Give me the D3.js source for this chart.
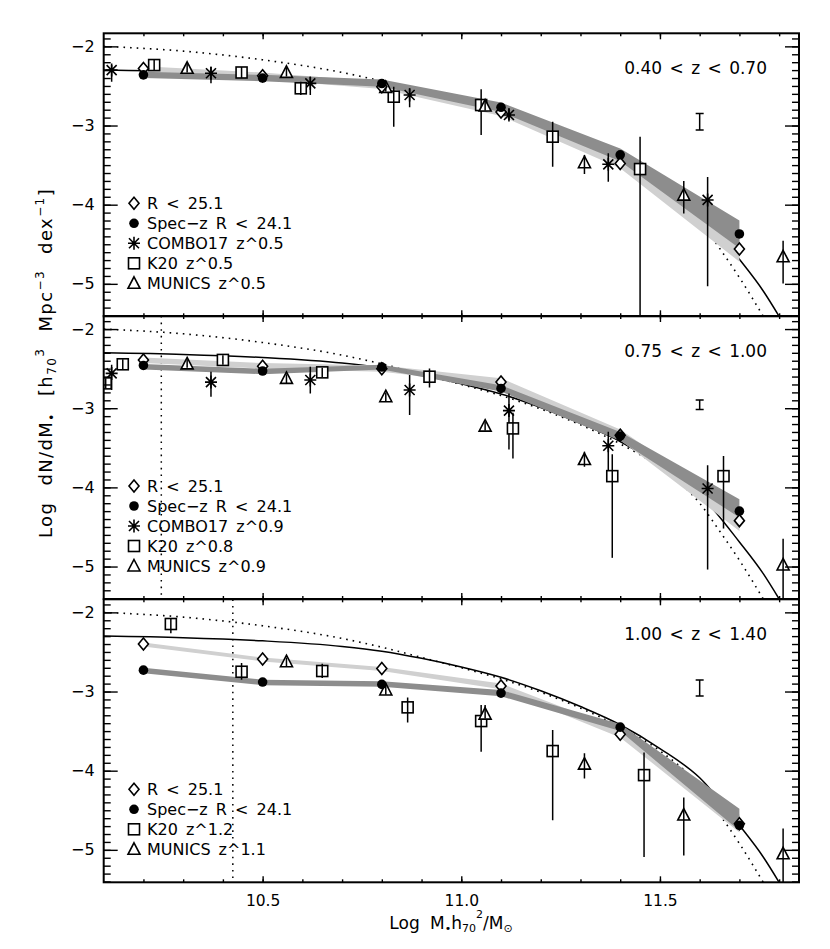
<!DOCTYPE html>
<html><head><meta charset="utf-8">
<script src="https://cdn.jsdelivr.net/npm/d3@7"></script>
<style>
body{margin:0;background:#fff}
svg{display:block}
text{font-family:"DejaVu Sans",sans-serif;fill:#000}
</style>
</head><body>
<svg id="c" width="830" height="949"></svg>
<script>
// ---------------- DATA ----------------
const massBins = [10.2, 10.5, 10.8, 11.1, 11.4, 11.7];
const xTickValues = [10.5, 11.0, 11.5];
const yTickValues = [-2, -3, -4, -5];
const zLabels = ["0.40 < z < 0.70", "0.75 < z < 1.00", "1.00 < z < 1.40"];

// reference mass functions
const dottedX = [10.1,10.3,10.5,10.7,10.8,10.9,11.0,11.1,11.2,11.3,11.4,11.5,11.6,11.65,11.7,11.76];
const dottedY = [-2.0,-2.06,-2.17,-2.33,-2.44,-2.57,-2.70,-2.84,-3.01,-3.21,-3.45,-3.75,-4.2,-4.55,-4.92,-5.41];
const solidX = [10.1,10.3,10.5,10.7,10.8,10.9,11.0,11.1,11.2,11.3,11.4,11.5,11.6,11.7,11.76,11.8];
const solidY = [-2.30,-2.32,-2.36,-2.43,-2.49,-2.58,-2.69,-2.82,-2.99,-3.19,-3.42,-3.72,-4.09,-4.69,-5.09,-5.41];

// panel 1 : 0.40 < z < 0.70
const rLim1   = [-2.28,-2.37,-2.51,-2.83,-3.48,-4.56];
const specZ1  = [-2.36,-2.40,-2.47,-2.77,-3.37,-4.37];
const lightHi1 = [-2.25,-2.33,-2.45,-2.76,-3.40,-4.40];
const lightLo1 = [-2.35,-2.42,-2.54,-2.88,-3.54,-4.72];
const darkHi1  = [-2.32,-2.36,-2.42,-2.71,-3.29,-4.20];
const darkLo1  = [-2.40,-2.44,-2.51,-2.83,-3.45,-4.55];
const combo1 = [[10.12,-2.30,-2.235,-2.446],[10.37,-2.34,-2.256,-2.467],[10.62,-2.467,-2.383,-2.615],[10.87,-2.615,-2.53,-2.77],[11.12,-2.867,-2.783,-2.93],[11.37,-3.49,-3.35,-3.71],[11.62,-3.94,-3.65,-5.03]];
const k20_1 = [[10.227,-2.236,-2.17,-2.30],[10.447,-2.33,-2.26,-2.40],[10.596,-2.53,-2.446,-2.615],[10.83,-2.636,-2.509,-3.015],[11.05,-2.741,-2.543,-3.12],[11.23,-3.141,-2.952,-3.52],[11.45,-3.55,-3.141,-5.41]];
const munics1 = [[10.31,-2.277,-2.22,-2.33],[10.56,-2.328,-2.27,-2.38],[10.81,-2.518,-2.46,-2.57],[11.06,-2.754,-2.69,-2.81],[11.31,-3.47,-3.373,-3.613],[11.56,-3.879,-3.702,-4.11],[11.81,-4.658,-4.456,-4.996]];
const legendTypes1 = ["diamond","circle","asterisk","square","triangle"];
const legendLabels1 = ["R < 25.1","Spec\u2212z R < 24.1","COMBO17 z^0.5","K20 z^0.5","MUNICS z^0.5"];

// panel 2 : 0.75 < z < 1.00
const rLim2   = [-2.39,-2.47,-2.50,-2.67,-3.34,-4.42];
const specZ2  = [-2.46,-2.53,-2.48,-2.75,-3.35,-4.30];
const lightHi2 = [-2.36,-2.43,-2.46,-2.62,-3.27,-4.30];
const lightLo2 = [-2.43,-2.50,-2.54,-2.71,-3.40,-4.55];
const darkHi2  = [-2.44,-2.50,-2.45,-2.71,-3.30,-4.15];
const darkLo2  = [-2.51,-2.57,-2.51,-2.79,-3.41,-4.38];
const combo2 = [[10.12,-2.56,-2.45,-2.77],[10.37,-2.67,-2.539,-2.855],[10.62,-2.644,-2.476,-2.813],[10.87,-2.77,-2.58,-3.087],[11.12,-3.03,-2.813,-3.52],[11.37,-3.474,-3.297,-3.816],[11.62,-4.014,-3.719,-5.038]];
const k20_2 = [[10.105,-2.686,-2.62,-2.75],[10.148,-2.445,-2.38,-2.51],[10.40,-2.39,-2.33,-2.45],[10.65,-2.547,-2.49,-2.61],[10.92,-2.602,-2.497,-2.737],[11.13,-3.255,-3.057,-3.634],[11.38,-3.858,-3.58,-4.89],[11.66,-3.858,-3.605,-4.52]];
const munics2 = [[10.31,-2.44,-2.38,-2.49],[10.56,-2.623,-2.57,-2.68],[10.81,-2.855,-2.80,-2.91],[11.06,-3.226,-3.17,-3.28],[11.31,-3.648,-3.55,-3.74],[11.81,-4.98,-4.65,-5.41]];
const legendTypes2 = ["diamond","circle","asterisk","square","triangle"];
const legendLabels2 = ["R < 25.1","Spec\u2212z R < 24.1","COMBO17 z^0.9","K20 z^0.8","MUNICS z^0.9"];

// panel 3 : 1.00 < z < 1.40
const rLim3   = [-2.40,-2.59,-2.71,-2.93,-3.54,-4.67];
const specZ3  = [-2.73,-2.88,-2.91,-3.02,-3.45,-4.69];
const lightHi3 = [-2.38,-2.57,-2.69,-2.90,-3.48,-4.55];
const lightLo3 = [-2.43,-2.62,-2.74,-2.97,-3.58,-4.78];
const darkHi3  = [-2.70,-2.85,-2.87,-2.98,-3.41,-4.48];
const darkLo3  = [-2.77,-2.92,-2.94,-3.06,-3.50,-4.76];
const k20_3 = [[10.269,-2.147,-2.075,-2.265],[10.447,-2.75,-2.64,-2.85],[10.65,-2.741,-2.65,-2.83],[10.865,-3.2,-3.074,-3.39],[11.05,-3.373,-3.17,-3.76],[11.23,-3.752,-3.487,-4.625],[11.46,-4.056,-3.77,-5.09]];
const munics3 = [[10.56,-2.623,-2.57,-2.68],[10.81,-2.98,-2.92,-3.04],[11.06,-3.285,-3.17,-3.34],[11.31,-3.917,-3.78,-4.1],[11.56,-4.56,-4.34,-5.07],[11.81,-5.05,-4.73,-5.41]];
const legendTypes3 = ["diamond","circle","square","triangle"];
const legendLabels3 = ["R < 25.1","Spec\u2212z R < 24.1","K20 z^1.2","MUNICS z^1.1"];

// typical error bar ("I") per panel : [centre, half-size]
const errBarX = 11.6;
const errBars = [[-2.952,0.105],[-2.956,0.06],[-2.956,0.10]];
// completeness limits (vertical dotted lines)
const vLines = [null, 10.245, 10.425];

// ---------------- LAYOUT ----------------
const svg = d3.select("#c");
const L = 103.7, R = 799, panelTops = [33.3, 316, 599.3], PH = 283;
const x = d3.scaleLinear().domain([10.1, 11.85]).range([L, R]);
const DARK = "#8d8d8d", LIGHT = "#d0d0d0";

const panels = [
  {z: zLabels[0], rl: rLim1, sz: specZ1, lh: lightHi1, ll: lightLo1, dh: darkHi1, dl: darkLo1, combo: combo1, k20: k20_1, mun: munics1, lt: legendTypes1, ll2: legendLabels1},
  {z: zLabels[1], rl: rLim2, sz: specZ2, lh: lightHi2, ll: lightLo2, dh: darkHi2, dl: darkLo2, combo: combo2, k20: k20_2, mun: munics2, lt: legendTypes2, ll2: legendLabels2},
  {z: zLabels[2], rl: rLim3, sz: specZ3, lh: lightHi3, ll: lightLo3, dh: darkHi3, dl: darkLo3, combo: null, k20: k20_3, mun: munics3, lt: legendTypes3, ll2: legendLabels3}
];

function marker(g, type, cx, cy) {
  const t = `translate(${cx},${cy})`;
  if (type === "circle") {
    g.append("circle").attr("cx", cx).attr("cy", cy).attr("r", 4.8).attr("fill", "#000");
  } else if (type === "diamond") {
    g.append("path").attr("transform", t).attr("d", "M0,-6L5,0L0,6L-5,0Z")
      .attr("fill", "#fff").attr("stroke", "#000").attr("stroke-width", 1.6);
  } else if (type === "square") {
    g.append("rect").attr("x", cx - 5.5).attr("y", cy - 5.5).attr("width", 11).attr("height", 11)
      .attr("fill", "#fff").attr("stroke", "#000").attr("stroke-width", 1.6);
  } else if (type === "triangle") {
    g.append("path").attr("transform", t).attr("d", "M0,-6.5L6,5L-6,5Z")
      .attr("fill", "#fff").attr("stroke", "#000").attr("stroke-width", 1.6).attr("stroke-linejoin", "miter");
  } else if (type === "asterisk") {
    g.append("path").attr("transform", t).attr("d", "M0,-6.5V6.5M-5,-5L5,5M-5,5L5,-5M-6,0H6")
      .attr("stroke", "#000").attr("stroke-width", 1.6).attr("fill", "none");
  }
}

panels.forEach((p, i) => {
  const top = panelTops[i];
  const y = d3.scaleLinear().domain([-5.41, -1.835]).range([top + PH, top]);
  const g = svg.append("g");
  const cid = "clip" + i;
  svg.append("defs").append("clipPath").attr("id", cid)
    .append("rect").attr("x", L).attr("y", top).attr("width", R - L).attr("height", PH);
  const inner = g.append("g").attr("clip-path", `url(#${cid})`);

  // reference curves
  const ln = d3.line().x(d => x(d[0])).y(d => y(d[1])).curve(d3.curveMonotoneX);
  inner.append("path").datum(dottedX.map((v, k) => [v, dottedY[k]])).attr("d", ln)
    .attr("fill", "none").attr("stroke", "#000").attr("stroke-width", 1.6)
    .attr("stroke-dasharray", "1.6,5");
  inner.append("path").datum(solidX.map((v, k) => [v, solidY[k]])).attr("d", ln)
    .attr("fill", "none").attr("stroke", "#000").attr("stroke-width", 1.5);

  if (vLines[i] !== null) {
    inner.append("line").attr("x1", x(vLines[i])).attr("x2", x(vLines[i]))
      .attr("y1", top).attr("y2", top + PH).attr("stroke", "#000")
      .attr("stroke-width", 1.5).attr("stroke-dasharray", "1.6,5");
  }

  // bands
  const area = (hi, lo) => d3.area().x((d, k) => x(massBins[k])).y0((d, k) => y(lo[k])).y1((d, k) => y(hi[k]))(massBins);
  inner.append("path").attr("d", area(p.lh, p.ll)).attr("fill", LIGHT);
  inner.append("path").attr("d", area(p.dh, p.dl)).attr("fill", DARK);

  // points with error bars
  const pts = inner.append("g");
  const drawSet = (arr, type) => {
    arr.forEach(d => {
      marker(pts, type, x(d[0]), y(d[1]));
      pts.append("line").attr("x1", x(d[0])).attr("x2", x(d[0]))
        .attr("y1", y(d[2])).attr("y2", y(d[3])).attr("stroke", "#000").attr("stroke-width", 1.5);
    });
  };
  if (p.combo) drawSet(p.combo, "asterisk");
  drawSet(p.k20, "square");
  drawSet(p.mun, "triangle");
  massBins.forEach((m, k) => marker(pts, "diamond", x(m), y(p.rl[k])));
  massBins.forEach((m, k) => marker(pts, "circle", x(m), y(p.sz[k])));

  // typical error bar
  const eb = errBars[i], ex = x(errBarX);
  g.append("path").attr("d", `M${ex - 4},${y(eb[0] + eb[1])}H${ex + 4}M${ex},${y(eb[0] + eb[1])}V${y(eb[0] - eb[1])}M${ex - 4},${y(eb[0] - eb[1])}H${ex + 4}`)
    .attr("stroke", "#000").attr("stroke-width", 1.5).attr("fill", "none");

  // redshift label
  g.append("text").attr("x", 767).attr("y", top + 41).attr("text-anchor", "end")
    .attr("font-size", 17).attr("word-spacing", 2).text(p.z);

  // legend
  const n = p.lt.length;
  p.lt.forEach((t, k) => {
    const cy = top + 250 - (n - 1 - k) * 20;
    marker(g, t, 134, cy);
    g.append("text").attr("x", 147).attr("y", cy + 5.8).attr("font-size", 16)
      .attr("word-spacing", 3).text(p.ll2[k]);
  });

  // axes
  const yMinor = d3.range(-54, -18).map(v => v / 10);
  const xMinor = d3.range(102, 119).map(v => v / 10);
  const styleAx = sel => { sel.select(".domain").remove(); sel.selectAll("line").attr("stroke", "#000").attr("stroke-width", 1.4); };
  g.append("g").attr("transform", `translate(${L},0)`)
    .call(d3.axisLeft(y).tickValues(yMinor).tickSizeInner(-7).tickSizeOuter(0).tickFormat("")).call(styleAx);
  g.append("g").attr("transform", `translate(${R},0)`)
    .call(d3.axisRight(y).tickValues(yMinor).tickSizeInner(-7).tickSizeOuter(0).tickFormat("")).call(styleAx);
  const yl = g.append("g").attr("transform", `translate(${L},0)`)
    .call(d3.axisLeft(y).tickValues(yTickValues).tickSizeInner(-14).tickSizeOuter(0).tickPadding(9).tickFormat(d3.format("d"))).call(styleAx);
  yl.attr("font-family", null).attr("font-size", null);
  yl.selectAll("text").attr("font-size", 16).attr("font-family", "DejaVu Sans");
  g.append("g").attr("transform", `translate(${R},0)`)
    .call(d3.axisRight(y).tickValues(yTickValues).tickSizeInner(-14).tickSizeOuter(0).tickFormat("")).call(styleAx);

  g.append("g").attr("transform", `translate(0,${top})`)
    .call(d3.axisTop(x).tickValues(xMinor).tickSizeInner(-3).tickSizeOuter(0).tickFormat("")).call(styleAx);
  g.append("g").attr("transform", `translate(0,${top})`)
    .call(d3.axisTop(x).tickValues(xTickValues).tickSizeInner(-6).tickSizeOuter(0).tickFormat("")).call(styleAx);
  g.append("g").attr("transform", `translate(0,${top + PH})`)
    .call(d3.axisBottom(x).tickValues(xMinor).tickSizeInner(-3).tickSizeOuter(0).tickFormat("")).call(styleAx);
  const xb = g.append("g").attr("transform", `translate(0,${top + PH})`)
    .call(d3.axisBottom(x).tickValues(xTickValues).tickSizeInner(-6).tickSizeOuter(0).tickPadding(13)
      .tickFormat(i === 2 ? d3.format(".1f") : "")).call(styleAx);
  xb.attr("font-family", null).attr("font-size", null);
  xb.selectAll("text").attr("font-size", 15.5).attr("font-family", "DejaVu Sans");

  // frame
  g.append("rect").attr("x", L).attr("y", top).attr("width", R - L).attr("height", PH)
    .attr("fill", "none").attr("stroke", "#000").attr("stroke-width", 2);
});

// rich text helper
function rich(sel, parts, base, small, sub, sup) {
  let off = 0;
  parts.forEach(([s, mode]) => {
    const target = mode === 1 ? sup : mode === -1 ? sub : 0;
    sel.append("tspan").attr("dy", target - off).attr("font-size", mode === 0 ? base : small).text(s);
    off = target;
  });
}

// axis titles
const xt = svg.append("text").attr("x", 451).attr("y", 929).attr("text-anchor", "middle")
  .attr("font-size", 17).attr("word-spacing", 5);
rich(xt, [["Log M", 0], ["\u2022", -1], ["h", 0], ["70", -1], ["2", 1], ["/M", 0], ["\u2299", -1]], 17, 11, 3, -11);

const yt = svg.append("text").attr("transform", "translate(52,363) rotate(-90)").attr("text-anchor", "middle")
  .attr("font-size", 18).attr("word-spacing", 9).attr("letter-spacing", 1.4);
rich(yt, [["Log dN/dM", 0], ["\u2022", -1], [" [h", 0], ["70", -1], ["3", 1], [" Mpc", 0], ["\u22123", 1], [" dex", 0], ["\u22121", 1], ["]", 0]], 18, 12, 3.5, -8);
</script>
</body></html>
